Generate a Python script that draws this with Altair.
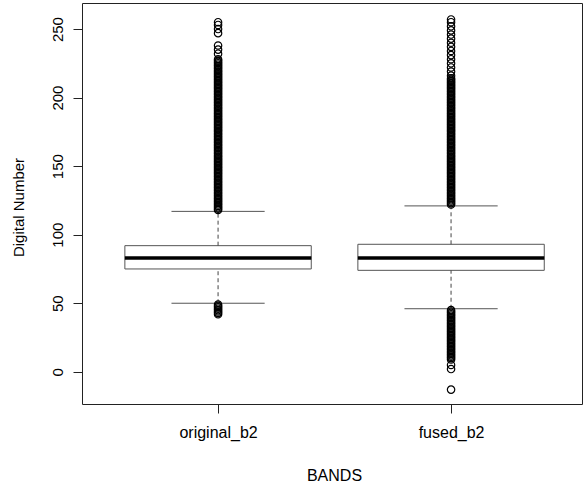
import altair as alt
import pandas as pd

# ---- data ----
bands = ["original_b2", "fused_b2"]
q1 = [75, 74]
median = [83, 83]
q3 = [92, 93]
whisker_low = [50, 46]
whisker_high = [117, 121]

outliers_original = [
    42, 43, 44, 45, 46, 47, 48, 49,
    118, 119, 120, 121, 122, 123, 124, 125, 126, 127, 128, 129, 130, 131, 132,
    133, 134, 135, 136, 137, 138, 139, 140, 141, 142, 143, 144, 145, 146, 147,
    148, 149, 150, 151, 152, 153, 154, 155, 156, 157, 158, 159, 160, 161, 162,
    163, 164, 165, 166, 167, 168, 169, 170, 171, 172, 173, 174, 175, 176, 177,
    178, 179, 180, 181, 182, 183, 184, 185, 186, 187, 188, 189, 190, 191, 192,
    193, 194, 195, 196, 197, 198, 199, 200, 201, 202, 203, 204, 205, 206, 207,
    208, 209, 210, 211, 212, 213, 214, 215, 216, 217, 218, 219, 220, 221, 222,
    223, 224, 225, 226, 227, 228,
    232, 235, 238, 247, 250, 253, 255,
]
outliers_fused = [
    -13, 2, 5,
    9, 10, 11, 12, 13, 14, 15, 16, 17, 18, 19, 20, 21, 22, 23, 24, 25, 26, 27,
    28, 29, 30, 31, 32, 33, 34, 35, 36, 37, 38, 39, 40, 41, 42, 43, 44, 45,
    122, 123, 124, 125, 126, 127, 128, 129, 130, 131, 132, 133, 134, 135, 136,
    137, 138, 139, 140, 141, 142, 143, 144, 145, 146, 147, 148, 149, 150, 151,
    152, 153, 154, 155, 156, 157, 158, 159, 160, 161, 162, 163, 164, 165, 166,
    167, 168, 169, 170, 171, 172, 173, 174, 175, 176, 177, 178, 179, 180, 181,
    182, 183, 184, 185, 186, 187, 188, 189, 190, 191, 192, 193, 194, 195, 196,
    197, 198, 199, 200, 201, 202, 203, 204, 205, 206, 207, 208, 209, 210, 211,
    212, 213, 214,
    216, 219, 222, 225, 228, 231, 234, 237, 240, 243, 246, 249, 252, 255, 257,
]
y_ticks = [0, 50, 100, 150, 200, 250]

# ---- tables ----
stats = pd.DataFrame({
    "band": bands,
    "pos": list(range(1, len(bands) + 1)),
    "q1": q1, "median": median, "q3": q3,
    "lo": whisker_low, "hi": whisker_high,
})
out_rows = [{"band": bands[0], "pos": 1, "value": v} for v in outliers_original] + \
           [{"band": bands[1], "pos": 2, "value": v} for v in outliers_fused]
outs = pd.DataFrame(out_rows)

FONT = "Liberation Sans"
label_expr = " : ".join(
    [f"datum.value == {i + 1} ? '{b}'" for i, b in enumerate(bands[:-1])] + [f"'{bands[-1]}'"]
)

xscale = alt.Scale(domain=[0.416, 2.562], nice=False, zero=False)
yscale = alt.Scale(domain=[-23.5, 269], nice=False, zero=False)

x_axis = alt.Axis(
    values=[1, 2], labelExpr=label_expr, title="BANDS",
    titleX=252, titleY=71, titleBaseline="middle", titleAlign="center",
    labelPadding=11, labelBaseline="top", labelFontSize=16, titleFontSize=16,
)
y_axis = alt.Axis(
    values=y_ticks, title="Digital Number",
    labelAngle=270, labelAlign="center", labelBaseline="bottom", labelPadding=8,
    titleX=-64, titleY=204, titleAngle=270, titleAlign="center", titleBaseline="middle",
)

base = alt.Chart(stats).transform_calculate(
    bl="datum.pos - 0.4", br="datum.pos + 0.4",
    sl="datum.pos - 0.2", sr="datum.pos + 0.2",
)

box = base.mark_rect(fill="white", stroke="#555555", strokeWidth=1).encode(
    x=alt.X("bl:Q", scale=xscale, axis=x_axis),
    x2="br:Q",
    y=alt.Y("q1:Q", scale=yscale, axis=y_axis),
    y2="q3:Q",
)
med = base.mark_rule(color="black", strokeWidth=3.5).encode(
    x=alt.X("bl:Q", scale=xscale), x2="br:Q", y=alt.Y("median:Q", scale=yscale)
)
whisk_up = base.mark_rule(color="#444444", strokeWidth=1, strokeDash=[4, 3]).encode(
    x=alt.X("pos:Q", scale=xscale), y=alt.Y("q3:Q", scale=yscale), y2="hi:Q"
)
whisk_lo = base.mark_rule(color="#444444", strokeWidth=1, strokeDash=[4, 3]).encode(
    x=alt.X("pos:Q", scale=xscale), y=alt.Y("lo:Q", scale=yscale), y2="q1:Q"
)
staple_hi = base.mark_rule(color="#555555", strokeWidth=1).encode(
    x=alt.X("sl:Q", scale=xscale), x2="sr:Q", y=alt.Y("hi:Q", scale=yscale)
)
staple_lo = base.mark_rule(color="#555555", strokeWidth=1).encode(
    x=alt.X("sl:Q", scale=xscale), x2="sr:Q", y=alt.Y("lo:Q", scale=yscale)
)
points = alt.Chart(outs).mark_point(
    shape="circle", filled=False, size=55, stroke="black", strokeWidth=1.2, opacity=1
).encode(
    x=alt.X("pos:Q", scale=xscale),
    y=alt.Y("value:Q", scale=yscale),
)

chart = alt.layer(box, whisk_up, whisk_lo, staple_hi, staple_lo, med, points).properties(
    width=500, height=401,
    autosize="none",
    padding={"left": 82, "top": 3, "right": 2, "bottom": 80},
    background="white",
).configure_view(
    stroke="#222222", strokeWidth=1
).configure_axis(
    grid=False, domain=False, tickColor="#222222", tickSize=9, tickWidth=1,
    labelFont=FONT, labelFontSize=15, labelColor="black",
    titleFont=FONT, titleFontSize=15, titleFontWeight="normal", titleColor="black",
)

chart.save("out.html", embed_options={"renderer": "svg", "actions": False})
